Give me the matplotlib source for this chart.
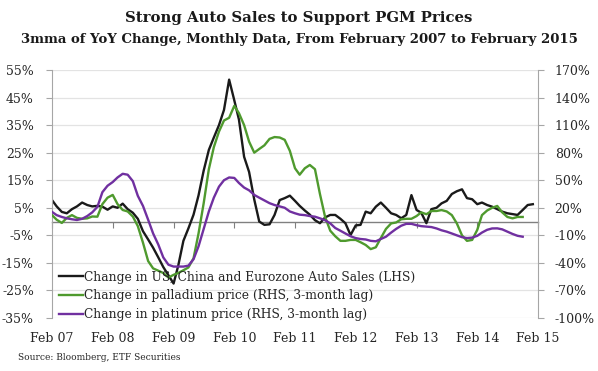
import pandas as pd
import matplotlib
matplotlib.use('Agg')
import matplotlib.pyplot as plt
import matplotlib.dates as mdates
from matplotlib.ticker import FuncFormatter

# ── Data (3mma of YoY change, monthly from Feb 2007) ─────────
auto_sales = [7.8, 5.5, 3.5, 3.0, 4.5, 5.5, 6.9, 6.0, 5.5, 5.7, 5.4, 4.3,
              5.5, 5.0, 6.5, 4.5, 3.2, 1.0, -3.5, -6.5, -9.5, -13, -16.5, -19.5,
              -22.5, -16, -7, -2.5, 2.5, 9.5, 18.5, 26, 30.5, 35, 40.5, 51.5,
              44, 37, 23.5, 18, 8, 0, -1.2, -1.0, 2.4, 7.8, 8.5, 9.4,
              7.5, 5.7, 4.0, 2.5, 0.5, -0.6, 1.5, 2.4, 2.4, 1.0, -0.6, -4.9,
              -1.4, -1.2, 3.6, 3.0, 5.4, 6.9, 5.0, 3.0, 2.4, 1.2, 2.4, 9.6,
              4.2, 3.2, -0.6, 4.5, 5.0, 6.6, 7.5, 10.0, 11.0, 11.7, 8.5, 8.1,
              6.3, 6.9, 6.0, 5.4, 4.5, 3.6, 3.0, 2.7, 2.4, 4.2, 6.0, 6.3]

palladium = [12, 7, 3.5, 9, 12, 9, 8, 8.5, 10.5, 10.3, 24, 31,
             34, 24, 17.6, 16, 10.5, 0, -18, -38, -46, -48.5, -51, -56,
             -53, -51, -48, -45, -35, -8, 25, 62, 86, 103, 115, 118,
             131, 123, 110, 92, 80, 84, 88, 95, 97, 96.5, 94, 82,
             63, 56, 63, 66.6, 62, 35, 10, -5, -11, -16, -16, -15,
             -15, -17.5, -20.5, -25, -23, -13, -3, 3, 4, 7.5, 8, 8,
             11, 15, 13, 16.5, 16.5, 17.5, 16, 12, 3, -10, -16, -15,
             -4, 12, 17, 20, 22, 15, 10, 8.5, 10, 10]

platinum = [15.5, 12, 10, 8.5, 7.5, 6.7, 8, 11, 15, 21, 37, 44,
            48, 53, 57, 56, 49, 33, 22, 7, -8, -20, -34, -42,
            -44, -44, -44, -43, -36, -22, -3, 16, 31, 43, 50, 53,
            52.5, 47, 42, 39, 34, 31, 28, 25, 23, 21.5, 20, 16,
            14, 12.5, 12, 11, 10.3, 8.5, 6.5, 3, -2, -5, -8, -11,
            -13, -14, -14.5, -16, -16.5, -14, -11.5, -7, -3, 0.5, 2.5, 2.5,
            1, 0, -0.5, -1, -2.5, -4.5, -6, -8, -10, -12, -13, -12.5,
            -10.5, -7, -4, -2.5, -2.4, -3.5, -6, -8.5, -10.5, -11.5]

labels = ['Change in US, China and Eurozone Auto Sales (LHS)',
          'Change in palladium price (RHS, 3-month lag)',
          'Change in platinum price (RHS, 3-month lag)']

dates_auto = pd.date_range('2007-02-01', periods=len(auto_sales), freq='MS')
dates_metal = pd.date_range('2007-02-01', periods=len(palladium), freq='MS')
year_ticks = pd.date_range('2007-02-01', '2015-02-01', freq='12MS')

plt.rcParams['font.family'] = 'DejaVu Serif'
text_col = '#262626'
axis_col = '#a6a6a6'

fig = plt.figure(figsize=(5.98, 3.71), dpi=100)
ax = fig.add_axes([52 / 598, 1 - 318 / 371, 486 / 598, 248 / 371])
ax2 = ax.twinx()

l1, = ax.plot(dates_auto, auto_sales, color='#1a1a1a', lw=1.7)
l2, = ax2.plot(dates_metal, palladium, color='#4f9a2e', lw=1.7)
l3, = ax2.plot(dates_metal, platinum, color='#7030a0', lw=1.7)

ax.set_xlim(year_ticks[0], year_ticks[-1])
ax.set_ylim(-35, 55)
ax.set_yticks(range(-35, 56, 10))
ax2.set_ylim(-100, 170)
ax2.set_yticks(range(-100, 171, 30))
pct = FuncFormatter(lambda v, p: f'{v:.0f}%')
ax.yaxis.set_major_formatter(pct)
ax2.yaxis.set_major_formatter(pct)

ax.yaxis.grid(True, color='#e3e3e3', lw=0.9)
ax.set_axisbelow(True)

for a in (ax, ax2):
    for s in ('top', 'bottom'):
        a.spines[s].set_visible(False)
ax.spines['right'].set_visible(False)
ax2.spines['left'].set_visible(False)
ax.spines['left'].set_color(axis_col)
ax2.spines['right'].set_color(axis_col)

ax.tick_params(axis='y', colors=axis_col, labelcolor=text_col, labelsize=9,
               length=4, pad=9)
ax2.tick_params(axis='y', colors=axis_col, labelcolor=text_col, labelsize=9,
                length=4, pad=8)

ax.set_xticks(year_ticks)
ax.xaxis.set_major_formatter(mdates.DateFormatter('%b %y'))
ax.tick_params(axis='x', length=0, labelsize=9, labelcolor=text_col, pad=10)

# zero line with year tick marks
zero_axis = ax.secondary_xaxis(35 / 90)
zero_axis.set_xticks(year_ticks)
zero_axis.tick_params(axis='x', direction='out', length=4, color='#808080',
                      labelbottom=False)
zero_axis.xaxis.set_ticklabels([])
zero_axis.spines['bottom'].set_color('#808080')
zero_axis.spines['bottom'].set_linewidth(1.0)

leg = ax2.legend([l1, l2, l3], labels, loc='center left',
                 bbox_to_anchor=(59 / 598, 1 - 296 / 371),
                 bbox_transform=fig.transFigure, frameon=False,
                 fontsize=8.8, handlelength=1.95, handletextpad=0.1,
                 labelspacing=0.48, borderpad=0, borderaxespad=0)
for t in leg.get_texts():
    t.set_color(text_col)

fig.text(0.5, 1 - 18 / 371, 'Strong Auto Sales to Support PGM Prices',
         ha='center', va='center', fontsize=10.7, fontweight='bold',
         color='#1a1a1a')
fig.text(0.5, 1 - 40 / 371,
         '3mma of YoY Change, Monthly Data, From February 2007 to February 2015',
         ha='center', va='center', fontsize=9.5, fontweight='bold',
         color='#1a1a1a')
fig.text(18 / 598, 1 - 357 / 371, 'Source: Bloomberg, ETF Securities',
         ha='left', va='center', fontsize=6.5, color=text_col)

fig.savefig('out.png', dpi=100)
